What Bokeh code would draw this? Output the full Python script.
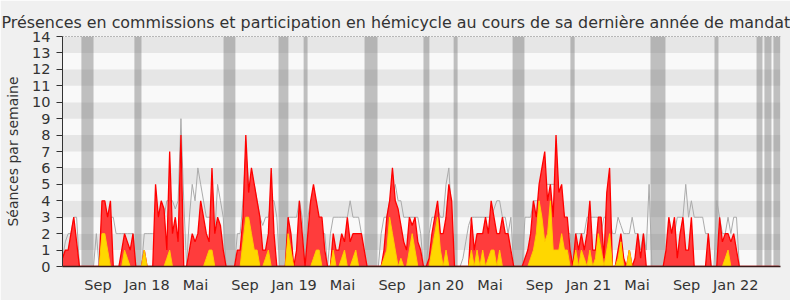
import numpy as np
from datetime import date
from bokeh.plotting import figure
from bokeh.models import Range1d, FixedTicker, Span
from bokeh.embed import file_html
from bokeh.resources import INLINE

# --- data (weekly values, first week starting 2017-06-05) ---
debut_mandat = date(2017, 6, 5)

presences = [
    0.5, 1, 1, 2, 3, 1.5, 0, 0, 0, 0,
    0, 0, 0, 0, 4, 4, 3, 4, 0, 0,
    0, 1, 2, 1.5, 1, 2, 0, 0, 0, 1,
    0, 0, 0, 5, 3, 4, 3.5, 1, 7, 2,
    3, 1.5, 8, 0, 0, 1, 2, 1.5, 2, 4,
    3, 2, 1.5, 6, 2, 3, 2.5, 1, 0, 0,
    0, 0, 1, 1, 3, 8, 4.5, 6, 5, 4,
    3, 1, 1, 2, 6, 2, 0, 0, 0, 0,
    3, 2, 0, 1, 4, 2, 0, 2, 4, 5,
    4, 3, 3, 1, 0, 0, 2, 1, 1, 2,
    1.5, 3, 1.5, 2, 2, 2, 2, 1, 0, 0,
    0, 0, 0, 0, 1, 3, 4, 6, 4, 3.5,
    2.5, 1.5, 1, 3, 2.5, 3, 1.5, 1, 0, 0,
    0.5, 2, 3, 4, 2, 2, 3, 5, 4, 0,
    0, 0, 0, 0, 0, 3, 1, 2, 2, 2,
    3, 2, 4, 3, 2, 2, 3, 2, 2, 1,
    0, 0, 0, 0, 0.5, 1, 2, 4, 3, 5,
    6, 7, 4, 5, 3, 8, 4.5, 5, 3, 3,
    1, 0, 2, 1, 2, 1, 2, 4, 1, 1,
    3, 3, 0.5, 4.5, 6, 0, 0, 1, 2, 0.5,
    0, 1, 0, 0.5, 2, 0.5, 2, 0, 0, 0,
    0, 0, 0, 0, 1, 3, 2, 3, 0.5, 2,
    3, 1, 1, 3, 0, 0, 0, 0, 0, 2,
    0, 0, 0, 3, 1.5, 2, 2, 1.5, 2, 1,
    0, 0, 0, 0, 0, 0, 0, 0, 0, 0,
    0, 0, 0, 0, 0,
]

interventions = [
    0, 0, 0, 0, 0, 0, 0, 0, 0, 0,
    0, 0, 0, 0, 2, 2, 1, 0, 0, 0,
    0, 0, 1, 0.5, 0, 0, 0, 0, 0, 1,
    0, 0, 0, 0, 0, 0, 0, 0.5, 1, 0,
    0, 0, 0, 0, 0, 0, 0, 0, 0, 0,
    0, 0.5, 1, 1, 0, 0, 0, 0, 0, 0,
    0, 0, 0, 0, 1.5, 3, 3, 2, 1, 1,
    0, 0, 0.5, 1, 0, 0, 0, 0, 0, 0,
    2, 1, 0, 0, 0, 0, 0, 0, 0, 0.5,
    1, 1, 0, 0, 0, 0, 1, 0, 0, 0.5,
    1, 0, 0, 0.5, 1, 0, 0, 0, 0, 0,
    0, 0, 0, 0, 0.5, 1, 3, 2, 1, 0,
    0.5, 0, 0, 1, 2, 1, 0, 0, 0, 0,
    0, 1, 2, 3, 1, 0, 1, 0, 0, 0,
    0, 0, 0, 0, 0, 1, 0, 1, 0, 1,
    0, 0.5, 1, 1, 0, 1, 0, 0, 0, 0,
    0, 0, 0, 0, 0, 0, 0.5, 1, 2, 4,
    3, 1.5, 2, 4, 1, 1, 1, 2, 1, 1,
    0, 0, 1, 0, 1, 0.5, 0, 1, 0, 0.5,
    2, 1, 0, 1, 2, 0, 0, 0.5, 1.5, 0,
    0, 1, 0, 0, 0, 0, 0, 0, 0, 0,
    0, 0, 0, 0, 0, 0, 0, 0, 0, 0,
    0, 0, 0, 0, 0, 0, 0, 0, 0, 0,
    0, 0, 0, 0, 0, 0.5, 1, 0, 0, 0,
    0, 0, 0, 0, 0, 0, 0, 0, 0, 0,
    0, 0, 0, 0, 0,
]

mediane = [
    0.5, 1.5, 2, 2, 3, 3, 0, 0, 0, 0,
    0, 0, 2, 0, 3, 3, 3, 3, 3, 2,
    2, 2, 2, 2, 2, 2, 0, 0, 0, 2,
    2, 2, 2, 2, 2, 3, 3, 4, 4, 4,
    3.5, 4, 9, 4, 0, 3, 5, 4, 6, 5,
    4, 3, 3, 3, 2, 5, 4, 3, 0, 0,
    0, 0, 2, 2, 4, 7, 5, 5, 5, 4,
    3, 2.5, 3, 3, 4, 4, 3, 0, 0, 0,
    3, 3, 3, 3, 4, 3, 0, 3, 4, 4,
    3, 3, 2, 2, 0, 2, 3, 3, 3, 3,
    3, 3, 4, 3, 3, 3, 2, 0, 0, 0,
    0, 0, 0, 2, 3, 3, 4, 4, 5, 4,
    4, 3, 3, 3, 3, 3, 3, 2, 0, 0,
    2, 3, 3, 3.5, 3, 3, 5, 6, 3, 0,
    0, 0, 0.5, 1.5, 2.5, 3, 3, 3, 3, 3,
    3, 3, 3, 3.5, 4, 4, 3, 3, 2, 3,
    0, 0, 0, 0, 3, 3, 3, 4, 4, 4,
    5, 5, 5, 5, 5, 5, 4, 4, 3, 2,
    2, 0, 2, 2, 2, 2, 3, 3, 3, 3,
    3, 2, 3, 3, 3, 2, 2, 3, 2.5, 2,
    2, 2, 3, 2, 2, 1, 2, 1, 5, 0,
    0, 0, 0, 0, 0, 1, 2, 2, 3, 3,
    3, 5, 3, 4, 3, 3, 3, 3, 2, 2,
    0, 0, 4, 3, 2, 2, 3, 2, 3, 3,
    0, 0, 0, 0, 0, 0, 0, 0, 0, 0,
    0, 0, 0, 0, 0,
]

# parliamentary breaks, in weeks since debut_mandat
vacances_debut = [6.7, 25.5, 57.1, 76.6, 85.5, 107.1, 128.0, 138.7, 159.6, 180.1, 208.5, 231.2, 246.1, 248.9, 252.1]
vacances_fin = [11.0, 28.0, 61.3, 80.1, 86.9, 111.7, 130.1, 140.1, 163.8, 181.6, 213.8, 232.6, 248.2, 251.4, 254.6]

mois_dates = [date(2017, 9, 1), date(2018, 1, 1), date(2018, 5, 1), date(2018, 9, 1),
              date(2019, 1, 1), date(2019, 5, 1), date(2019, 9, 1), date(2020, 1, 1),
              date(2020, 5, 1), date(2020, 9, 1), date(2021, 1, 1), date(2021, 5, 1),
              date(2021, 9, 1), date(2022, 1, 1)]
mois_labels = ["Sep", "Jan 18", "Mai", "Sep", "Jan 19", "Mai", "Sep", "Jan 20",
               "Mai", "Sep", "Jan 21", "Mai", "Sep", "Jan 22"]

titre = "Présences en commissions et participation en hémicycle au cours de sa dernière année de mandat"
y_titre = "Séances par semaine"

# --- derived ---
semaines = np.arange(len(presences))
tick_pos = [(d - debut_mandat).days / 7 for d in mois_dates]
x_end = len(presences) - 0.4

FONT = "DejaVu Sans"
TXT = "#333333"

p = figure(width=790, height=300, output_backend="svg", toolbar_location=None,
           x_range=Range1d(0, x_end), y_range=Range1d(0, 14),
           min_border_left=62, min_border_right=10, min_border_top=36, min_border_bottom=34,
           border_fill_color="#f0f0f0", background_fill_color="#f9f9f9",
           outline_line_color=None)

# horizontal stripes
stripe_y = np.arange(0.5, 14, 1.0)
stripe_col = ["#f9f9f9" if int(v) % 2 == 0 else "#e6e6e6" for v in stripe_y]
p.hbar(y=stripe_y, height=1, left=0, right=x_end, fill_color=stripe_col, line_color=None)

# vacation bands
p.quad(left=vacances_debut, right=vacances_fin, bottom=0, top=14,
       fill_color="#707070", fill_alpha=0.42, line_color=None)

# median line
p.line(semaines, mediane, line_color="#aaaaaa", line_width=1)

# presences (red)
p.varea(x=semaines, y1=0, y2=presences, fill_color="#ff3c3c")
p.line(semaines, presences, line_color="#ff0000", line_width=1.3)

# interventions (yellow)
p.varea(x=semaines, y1=0, y2=interventions, fill_color="#ffd700")
p.line(semaines, interventions, line_color="#ffcc00", line_width=1)

p.add_layout(Span(location=14, dimension="width", line_color="#000000",
                  line_dash="1 2", line_width=1))

# title
p.title.text = titre
p.title.align = "left"
p.title.offset = -61
p.title.text_font = FONT
p.title.text_font_size = "15.9px"
p.title.text_font_style = "normal"
p.title.text_color = TXT

# axes
p.grid.visible = False
p.yaxis.ticker = FixedTicker(ticks=list(range(15)))
p.yaxis.axis_label = y_titre
p.yaxis.axis_label_text_font = FONT
p.yaxis.axis_label_text_font_size = "14px"
p.yaxis.axis_label_text_font_style = "normal"
p.yaxis.axis_label_text_color = TXT
p.yaxis.axis_label_standoff = 8
p.yaxis.major_label_text_font = FONT
p.yaxis.major_label_text_font_size = "14.5px"
p.yaxis.major_label_text_color = TXT
p.yaxis.major_tick_out = 6
p.yaxis.major_tick_in = 0
p.yaxis.minor_tick_line_color = None
p.yaxis.major_label_standoff = 6
p.yaxis.axis_line_color = "#333333"
p.yaxis.major_tick_line_color = "#333333"

p.xaxis.ticker = FixedTicker(ticks=tick_pos)
p.xaxis.major_label_overrides = dict(zip(tick_pos, mois_labels))
p.xaxis.major_label_text_font = FONT
p.xaxis.major_label_text_font_size = "14.5px"
p.xaxis.major_label_text_color = TXT
p.xaxis.major_tick_line_color = None
p.xaxis.minor_tick_line_color = None
p.xaxis.major_label_standoff = 4
p.xaxis.axis_line_color = "#3a1a1a"
p.xaxis.axis_line_width = 1.5

open("out.html", "w").write(file_html(p, INLINE))
